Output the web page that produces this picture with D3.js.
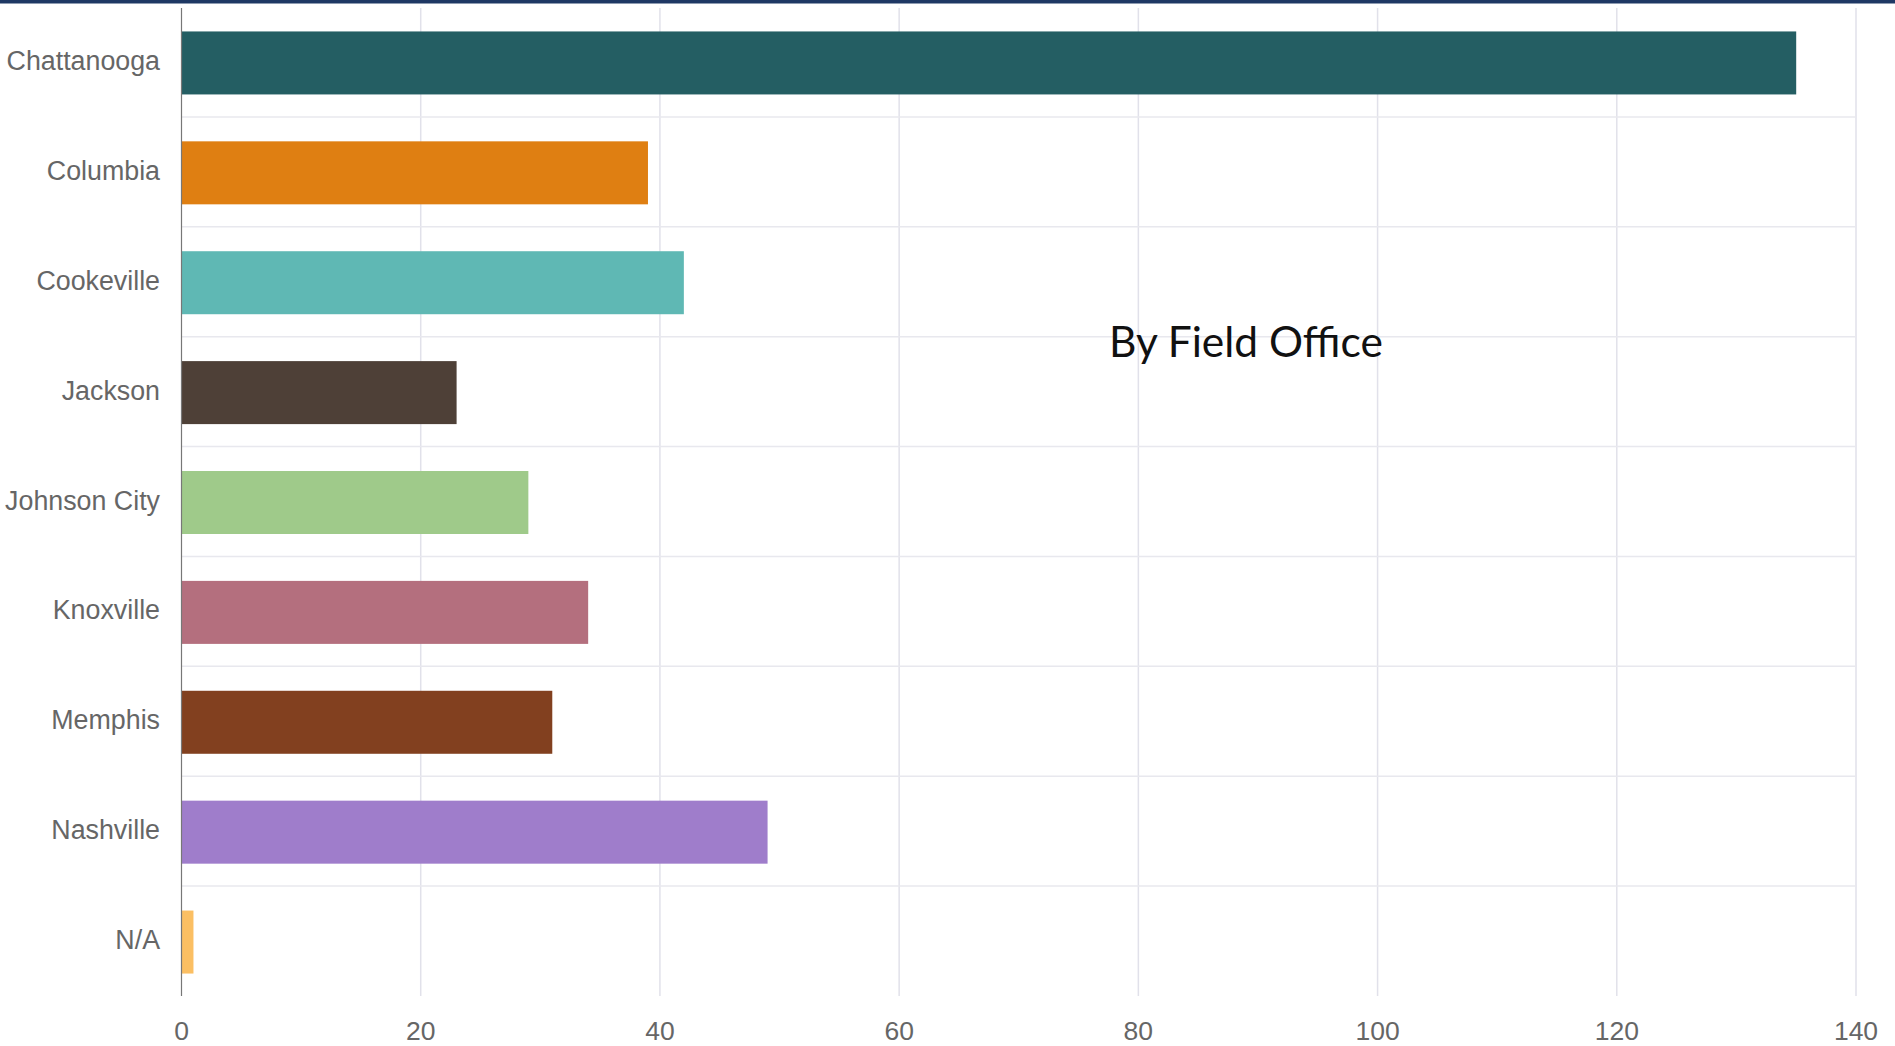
<!DOCTYPE html>
<html>
<head>
<meta charset="utf-8">
<script src="https://cdn.jsdelivr.net/npm/d3@7"></script>
<style>
  html, body { margin: 0; padding: 0; background: #fff; }
  svg { display: block; }
</style>
</head>
<body>
<svg id="chart" width="1895" height="1046"></svg>
<script>
const categories = ["Chattanooga", "Columbia", "Cookeville", "Jackson", "Johnson City", "Knoxville", "Memphis", "Nashville", "N/A"];
const values = [135, 39, 42, 23, 29, 34, 31, 49, 1];
const colors = ["#245e63", "#df7f12", "#5fb8b4", "#4e4037", "#9fca8a", "#b46f7e", "#82401f", "#9f7dcb", "#fbbf63"];
const xTicks = [0, 20, 40, 60, 80, 100, 120, 140];
const title = "By Field Office";

(function () {
const svg = d3.select("#chart");
const W = 1895, H = 1046;
const pLeft = 181.5, pRight = 1856, pTop = 7, pBottom = 996;

// top dark strip
svg.append("rect").attr("x", 0).attr("y", 0).attr("width", W).attr("height", 3.5).attr("fill", "#1f3864");

const x = d3.scaleLinear().domain([0, 140]).range([pLeft, pRight]);
const y = d3.scaleBand().domain(categories).range([pTop, pBottom]).paddingInner(0).paddingOuter(0);

// vertical grid lines
svg.append("g").selectAll("line").data(xTicks.slice(1)).join("line")
  .attr("x1", d => x(d)).attr("x2", d => x(d))
  .attr("y1", pTop + 1).attr("y2", pBottom)
  .attr("stroke", "#e1e1ea").attr("stroke-width", 1.5);

// horizontal separators between categories
svg.append("g").selectAll("line").data(categories.slice(1)).join("line")
  .attr("x1", pLeft).attr("x2", pRight)
  .attr("y1", d => y(d)).attr("y2", d => y(d))
  .attr("stroke", "#e8e8ee").attr("stroke-width", 1.5);

// bars
const barH = 63;
svg.append("g").selectAll("rect").data(categories).join("rect")
  .attr("x", x(0))
  .attr("y", d => y(d) + y.bandwidth() / 2 - barH / 2 + 1)
  .attr("width", (d, i) => x(values[i]) - x(0))
  .attr("height", barH)
  .attr("fill", (d, i) => colors[i]);

// y axis line
svg.append("line").attr("x1", pLeft).attr("x2", pLeft).attr("y1", pTop + 1).attr("y2", pBottom)
  .attr("stroke", "#777").attr("stroke-width", 1.2);

// y labels
svg.append("g").selectAll("text").data(categories).join("text")
  .attr("x", 160)
  .attr("y", d => y(d) + y.bandwidth() / 2 + 1)
  .attr("text-anchor", "end")
  .attr("dominant-baseline", "middle")
  .attr("font-family", "'Liberation Sans', Arial, sans-serif")
  .attr("font-size", 26.8)
  .attr("fill", "#666")
  .text(d => d);

// x tick labels
svg.append("g").selectAll("text").data(xTicks).join("text")
  .attr("x", d => x(d))
  .attr("y", 1040)
  .attr("text-anchor", "middle")
  .attr("font-family", "'Liberation Sans', Arial, sans-serif")
  .attr("font-size", 26.5)
  .attr("fill", "#666")
  .text(d => d);

// overlay title
svg.append("text")
  .attr("x", 1246).attr("y", 357)
  .attr("text-anchor", "middle")
  .attr("font-family", "Lato, 'Open Sans', sans-serif")
  .attr("font-size", 42.5)
  .attr("fill", "#111")
  .text(title);
})();
</script>
</body>
</html>
